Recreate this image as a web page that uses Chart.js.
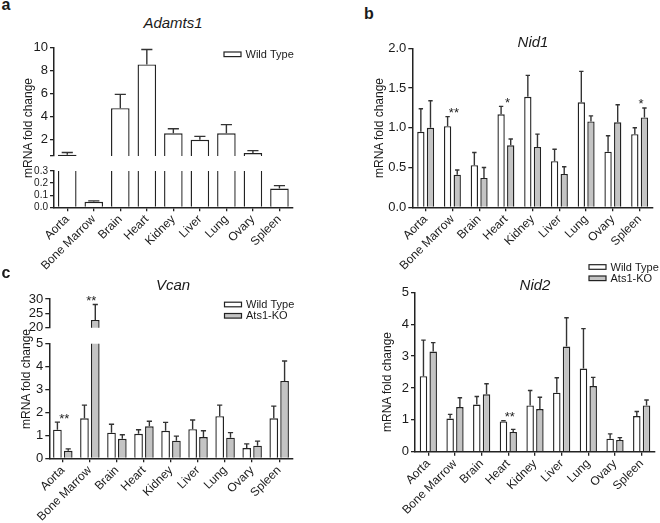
<!DOCTYPE html>
<html>
<head>
<meta charset="utf-8">
<script src="https://cdn.jsdelivr.net/npm/chart.js@4.4.1/dist/chart.umd.min.js"></script>
<style>
  body{margin:0;width:660px;height:523px;position:relative;overflow:hidden;background:#fff;
    font-family:"Liberation Sans",Arial,sans-serif;color:#1a1a1a;}
  canvas{position:absolute;}
  .t{position:absolute;white-space:nowrap;transform:translate(-50%,-50%);line-height:1.2;}
</style>
</head>
<body>
<script>
// ---- data ----
const organs = ["Aorta", "Bone Marrow", "Brain", "Heart", "Kidney", "Liver", "Lung", "Ovary", "Spleen"];
const seriesNames = ["Wild Type", "Ats1-KO"];

const adamts1WT    = [0.71, 0.045, 4.75, 8.55, 2.57, 2.00, 2.57, 0.85, 0.155];
const adamts1WTErr = [0.20, 0.008, 1.20, 1.30, 0.40, 0.30, 0.75, 0.22, 0.024];

const nid1WT    = [0.95, 1.02, 0.53, 1.17, 1.39, 0.58, 1.32, 0.70, 0.92];
const nid1WTErr = [0.29, 0.12, 0.16, 0.10, 0.27, 0.15, 0.39, 0.20, 0.08];
const nid1KO    = [1.00, 0.41, 0.37, 0.78, 0.76, 0.42, 1.08, 1.07, 1.13];
const nid1KOErr = [0.34, 0.06, 0.13, 0.08, 0.16, 0.09, 0.07, 0.22, 0.12];
const nid1Stars = ["", "**", "", "*", "", "", "", "", "*"];

const vcanWT    = [1.25, 1.75, 1.12, 1.07, 1.20, 1.27, 1.84, 0.45, 1.75];
const vcanWTErr = [0.33, 0.57, 0.37, 0.18, 0.37, 0.40, 0.48, 0.18, 0.53];
const vcanKO    = [0.33, 22.7, 0.85, 1.40, 0.77, 0.93, 0.90, 0.55, 3.38];
const vcanKOErr = [0.08, 5.40, 0.18, 0.22, 0.20, 0.27, 0.22, 0.20, 0.87];
const vcanStars = ["**", "**", "", "", "", "", "", "", ""];

const nid2WT    = [2.37, 1.04, 1.48, 0.95, 1.45, 1.85, 2.61, 0.41, 1.12];
const nid2WTErr = [1.13, 0.13, 0.25, 0.02, 0.47, 0.47, 1.25, 0.15, 0.14];
const nid2KO    = [3.14, 1.40, 1.80, 0.62, 1.34, 3.30, 2.06, 0.37, 1.45];
const nid2KOErr = [0.28, 0.29, 0.33, 0.08, 0.37, 0.90, 0.27, 0.07, 0.17];
const nid2Stars = ["", "", "", "**", "", "", "", "", ""];

// axis ranges [min, max, step]
const adamts1TopAxis = [0.6, 10, 2];
const adamts1LowAxis = [0, 0.3, 0.1];
const nid1Axis = [0, 2, 0.5];
const vcanTopAxis = [20, 30, 5];
const vcanLowAxis = [0, 5, 1];
const nid2Axis = [0, 5, 1];

// ---- styling ----
const INK = "#222";
const WT_FILL = "#ffffff";
const KO_FILL = "#c4c4c4";
Chart.defaults.font.family = "'Liberation Sans', Arial, sans-serif";
Chart.defaults.color = "#1a1a1a";

const errorBars = {
  id: "errorBars",
  afterDatasetsDraw(chart){
    const {ctx, chartArea: a, scales} = chart;
    const y = scales.y;
    ctx.save();
    ctx.beginPath();
    ctx.rect(a.left, a.top, a.right - a.left, a.bottom - a.top);
    ctx.clip();
    ctx.strokeStyle = "#333";
    ctx.lineWidth = 1.4;
    chart.data.datasets.forEach((ds, di) => {
      const meta = chart.getDatasetMeta(di);
      meta.data.forEach((bar, i) => {
        const top = y.getPixelForValue(ds.data[i] + ds.errors[i]);
        const half = bar.width * 0.3;
        ctx.beginPath();
        ctx.moveTo(bar.x, bar.y);
        ctx.lineTo(bar.x, top);
        ctx.moveTo(bar.x - half, top);
        ctx.lineTo(bar.x + half, top);
        ctx.stroke();
      });
    });
    ctx.restore();
  }
};

const stars = {
  id: "stars",
  afterDatasetsDraw(chart, args, opts){
    if (!opts.marks) return;
    const {ctx, chartArea: a, scales} = chart;
    ctx.save();
    ctx.font = "13px 'Liberation Sans', Arial, sans-serif";
    ctx.fillStyle = "#222";
    ctx.textAlign = "center";
    ctx.textBaseline = "alphabetic";
    opts.marks.forEach((m, i) => {
      if (!m) return;
      let top = Infinity;
      chart.data.datasets.forEach(ds => {
        top = Math.min(top, scales.y.getPixelForValue(ds.data[i] + ds.errors[i]));
      });
      if (top < a.top - 1 || top > a.bottom) return;
      ctx.fillText(m, scales.x.getPixelForValue(i) + 1.5, top + 0.5);
    });
    ctx.restore();
  }
};

const boxLegend = {
  id: "boxLegend",
  afterDraw(chart, args, o){
    if (o.x === undefined) return;
    const ctx = chart.ctx;
    ctx.save();
    ctx.font = "11px 'Liberation Sans', Arial, sans-serif";
    ctx.textBaseline = "middle";
    ctx.textAlign = "left";
    ctx.lineWidth = 1.2;
    chart.data.datasets.forEach((ds, i) => {
      const cy = o.y + i * o.dy;
      ctx.fillStyle = ds.backgroundColor;
      ctx.fillRect(o.x, cy - 2.3, 17, 4.6);
      ctx.strokeStyle = INK;
      ctx.strokeRect(o.x, cy - 2.3, 17, 4.6);
      ctx.fillStyle = "#1a1a1a";
      ctx.fillText(ds.label, o.x + 21.5, cy + 0.5);
    });
    ctx.restore();
  }
};

function dataset(label, data, errors, fill){
  return {
    label, data, errors,
    backgroundColor: fill,
    borderColor: INK,
    borderWidth: 1.4,
    borderSkipped: "start",
    clip: 0
  };
}

function tickFmt(step, dec){
  return v => {
    const k = v / step;
    if (Math.abs(k - Math.round(k)) > 1e-6) return "";
    return Number(v).toFixed(dec);
  };
}

// area: page coords of the plot area {l,t,r,b}
function makeChart(area, cfg){
  const PT = cfg.padTop || 12, YW = 46, PR = 6;
  const left = Math.round(area.l - YW);
  const top = Math.round(area.t - PT);
  const width = Math.ceil(area.r + PR - left);
  const bottomSpace = cfg.xLabels ? 95 : 16;
  const height = Math.ceil(area.b - top + bottomSpace);
  const c = document.createElement("canvas");
  c.width = width; c.height = height;
  c.style.left = left + "px"; c.style.top = top + "px";
  document.body.appendChild(c);

  const yw = area.l - left;
  const xh = height - (area.b - top);
  const [ymin, ymax, ystep] = cfg.axis;
  const leg = cfg.legend ? {x: cfg.legend.x - left, y: cfg.legend.y - top, dy: cfg.legend.dy} : {};

  const ch = new Chart(c, {
    type: "bar",
    data: { labels: organs, datasets: cfg.datasets },
    options: {
      responsive: false,
      animation: false,
      devicePixelRatio: 1,
      categoryPercentage: cfg.cat,
      barPercentage: cfg.bar,
      layout: { padding: { left: 0, top: area.t - top, right: width - (area.r - left), bottom: 0 } },
      plugins: {
        legend: { display: false },
        tooltip: { enabled: false },
        stars: { marks: cfg.stars },
        boxLegend: leg
      },
      scales: {
        x: {
          display: !!cfg.xLabels,
          offset: true,
          grid: { offset: false, drawOnChartArea: false, drawTicks: true, tickLength: 4, color: INK, lineWidth: 1.3 },
          border: { display: true, color: INK, width: 1.5 },
          ticks: { autoSkip: false, minRotation: 45, maxRotation: 45, padding: 1, font: { size: 12 }, color: "#1a1a1a" },
          afterFit: s => { s.height = xh; }
        },
        y: {
          min: ymin, max: ymax,
          grid: { drawOnChartArea: false, drawTicks: true, tickLength: 4, color: INK, lineWidth: 1.3 },
          border: { display: true, color: INK, width: 1.5 },
          ticks: { autoSkip: false, stepSize: ystep, padding: 2, font: { size: cfg.tickSize || 13 }, color: "#1a1a1a", callback: tickFmt(ystep, cfg.dec) },
          afterFit: s => { s.width = yw; }
        }
      }
    },
    plugins: [errorBars, stars, boxLegend]
  });

  // pull the plot bottom onto the wanted line when the axis labels add extra room
  const dy = ch.chartArea.bottom - (area.b - top);
  if (!cfg.xLabels && Math.abs(dy) > 0.2) {
    ch.options.layout.padding.bottom = Math.max(0, dy);
    ch.update();
    const dy2 = ch.chartArea.bottom - (area.b - top);
    if (Math.abs(dy2) > 0.2) { ch.resize(width, Math.round(height - dy2)); }
  }
  return ch;
}

function text(str, x, y, css, rotate){
  const d = document.createElement("div");
  d.className = "t";
  d.textContent = str;
  d.style.left = x + "px";
  d.style.top = y + "px";
  d.style.cssText += css;
  if (rotate) d.style.transform = "translate(-50%,-50%) rotate(-90deg)";
  document.body.appendChild(d);
}

// ---- panel a: Adamts1 (broken axis) ----
const aSets = () => [dataset(seriesNames[0], adamts1WT, adamts1WTErr, WT_FILL)];
makeChart({l: 54, t: 47.7, r: 292.7, b: 156}, {
  axis: adamts1TopAxis, dec: 0, datasets: aSets(), cat: 0.7, bar: 1,
  legend: {x: 224, y: 54.3, dy: 0}
});
makeChart({l: 54, t: 170.7, r: 292.7, b: 207.3}, {
  axis: adamts1LowAxis, dec: 1, datasets: aSets(), cat: 0.7, bar: 1, xLabels: true, padTop: 8, tickSize: 10
});

// ---- panel b: Nid1 ----
makeChart({l: 412.3, t: 48.3, r: 653, b: 207.3}, {
  axis: nid1Axis, dec: 1, cat: 0.72, bar: 0.76, xLabels: true, stars: nid1Stars,
  datasets: [dataset(seriesNames[0], nid1WT, nid1WTErr, WT_FILL), dataset(seriesNames[1], nid1KO, nid1KOErr, KO_FILL)]
});

// ---- panel c: Vcan (broken axis) ----
const cSets = () => [dataset(seriesNames[0], vcanWT, vcanWTErr, WT_FILL), dataset(seriesNames[1], vcanKO, vcanKOErr, KO_FILL)];
makeChart({l: 49.3, t: 299, r: 292.7, b: 327.7}, {
  axis: vcanTopAxis, dec: 0, datasets: cSets(), cat: 0.8, bar: 0.8, stars: vcanStars,
  legend: {x: 224.5, y: 304.5, dy: 11.3}
});
makeChart({l: 49.3, t: 342.3, r: 292.7, b: 458.3}, {
  axis: vcanLowAxis, dec: 0, datasets: cSets(), cat: 0.8, bar: 0.8, xLabels: true, stars: vcanStars, padTop: 8
});

// ---- panel d: Nid2 ----
makeChart({l: 415, t: 292.3, r: 655, b: 451.7}, {
  axis: nid2Axis, dec: 0, cat: 0.73, bar: 0.77, xLabels: true, stars: nid2Stars, padTop: 32,
  legend: {x: 589, y: 267, dy: 11.3},
  datasets: [dataset(seriesNames[0], nid2WT, nid2WTErr, WT_FILL), dataset(seriesNames[1], nid2KO, nid2KOErr, KO_FILL)]
});

// ---- text ----
const bold = "font-weight:bold;font-size:16px;";
const ttl = "font-style:italic;font-size:15px;";
const ylab = "font-size:12px;";
text("a", 6, 4.5, bold);
text("b", 369, 13.5, bold);
text("c", 6, 272.5, bold);
text("Adamts1", 173, 23, ttl);
text("Nid1", 533, 41.7, ttl);
text("Vcan", 173, 285, ttl);
text("Nid2", 535, 285, ttl);
text("mRNA fold change", 28.3, 128.3, ylab, true);
text("mRNA fold change", 379.3, 128.3, ylab, true);
text("mRNA fold change", 26, 379, ylab, true);
text("mRNA fold change", 386.7, 381.7, ylab, true);
</script>
</body>
</html>
